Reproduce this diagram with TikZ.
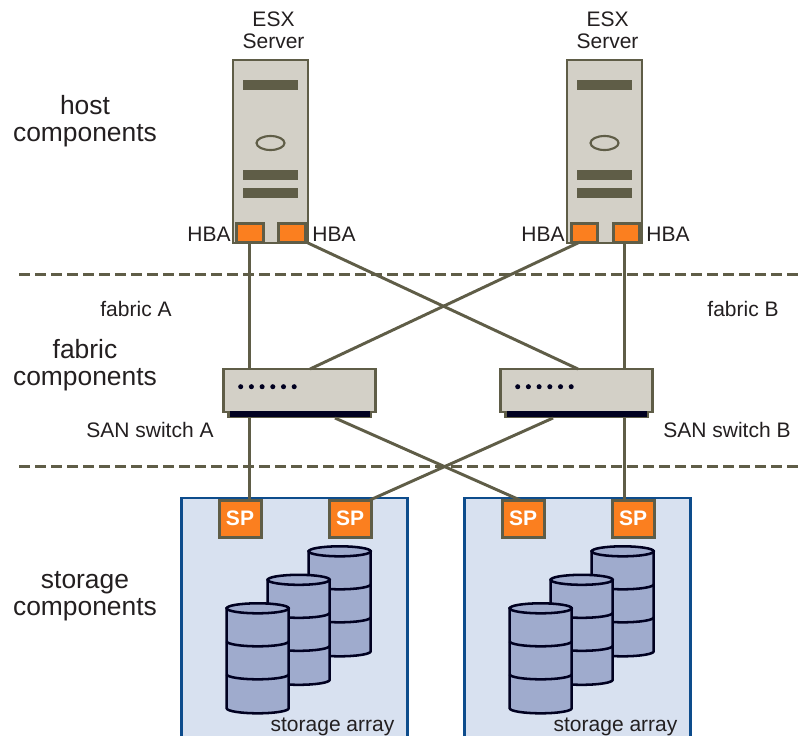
\documentclass[tikz,border=0pt]{standalone}
\usepackage{fontspec}
\usetikzlibrary{shapes.geometric}
\setmainfont{Liberation Sans}
\definecolor{olive}{HTML}{5F5D47}
\definecolor{putty}{HTML}{D3D0C7}
\definecolor{hbaorange}{HTML}{FB7F1F}
\definecolor{arrayfill}{HTML}{D8E1F0}
\definecolor{arrayline}{HTML}{0D4C8C}
\definecolor{drumfill}{HTML}{9FABCD}
\definecolor{inkdark}{HTML}{000020}
\definecolor{txt}{HTML}{231F20}
\tikzset{
  basebox/.style={rectangle,inner sep=0pt,outer sep=0pt},
  serverbox/.style={basebox,draw=olive,fill=putty,line width=2.1pt,minimum width=56.25pt,minimum height=137.25pt},
  hbabox/.style={basebox,draw=olive,fill=hbaorange,line width=2.25pt,minimum width=20pt,minimum height=14.25pt},
  spbox/.style={basebox,draw=olive,fill=hbaorange,line width=2.25pt,minimum width=31.5pt,minimum height=27.75pt,text=white,font=\fontsize{15.75}{16}\selectfont\bfseries},
  switchbox/.style={basebox,draw=olive,fill=putty,line width=2.1pt,minimum width=114pt,minimum height=32.25pt},
  switchfoot/.style={basebox,fill=olive,minimum width=108.3pt,minimum height=4.5pt},
  switchbar/.style={basebox,fill=inkdark,minimum width=105pt,minimum height=4.5pt},
  slot/.style={basebox,fill=olive,minimum width=41.25pt,minimum height=7.5pt},
  led/.style={ellipse,inner sep=0pt,outer sep=0pt,draw=olive,line width=1.6pt,minimum width=21pt,minimum height=10.5pt},
  wire/.style={draw=olive,line width=2.2pt},
  divider/.style={draw=olive,line width=2.25pt,dash pattern=on 8.25pt off 3.75pt},
  lab/.style={align=center,inner sep=0pt,text=txt,font=\fontsize{15.75}{16.5}\selectfont},
  biglab/.style={align=center,inner sep=0pt,text=txt,font=\fontsize{19.8}{20.25}\selectfont},
  drum/.style={draw=inkdark,fill=drumfill,line width=1.9pt},
}
\newcommand{\drumat}[2]{%
  \begin{scope}[shift={(#1,#2)}]
    \path[drum] (-31,0) -- (-31,100) arc[start angle=180,end angle=360,x radius=23.25pt,y radius=3.75pt] -- (31,0) -- cycle;
    \draw[drum] (0,0) ellipse [x radius=23.25pt,y radius=3.75pt];
    \draw[drum,fill=none] (-31,33) arc[start angle=180,end angle=360,x radius=23.25pt,y radius=3.75pt];
    \draw[drum,fill=none] (-31,66) arc[start angle=180,end angle=360,x radius=23.25pt,y radius=3.75pt];
  \end{scope}}
\begin{document}
\begin{tikzpicture}[x=0.75pt,y=-0.75pt]
\useasboundingbox (0,0) rectangle (798,736);
\fill[white] (0,0) rectangle (798,736);

% dividers
\coordinate (d1l) at (19,274); \coordinate (d1r) at (798,274);
\coordinate (d2l) at (19,466); \coordinate (d2r) at (798,466);

% storage arrays
\foreach \ox in {0,283}{
  \begin{scope}[shift={(\ox,0)}]
    \fill[arrayfill] (181.5,498) rectangle (407.5,736);
    \draw[arrayline,line width=1.9pt] (181.5,736) -- (181.5,498) -- (407.5,498) -- (407.5,736);
    \drumat{339.7}{551.3}
    \drumat{298.7}{579.8}
    \drumat{257.7}{608.3}
  \end{scope}
}

% servers
\node[serverbox] (srvA) at (270.5,151.5) {};
\node[serverbox] (srvB) at (604.5,151.5) {};
\foreach \s/\cx in {A/270.5,B/604.5}{
  \node[slot] (s1\s) at (\cx,85) {};
  \node[slot] (s2\s) at (\cx,175) {};
  \node[slot] (s3\s) at (\cx,193) {};
}
\node[led] (ledA) at (270.5,143) {};
\node[led] (ledB) at (604.5,143) {};
\node[hbabox] (hA1) at (250,232.5) {};
\node[hbabox] (hA2) at (292,232.5) {};
\node[hbabox] (hB1) at (584.5,232.5) {};
\node[hbabox] (hB2) at (626.5,232.5) {};

% switches
\node[switchbox] (swA) at (299.5,390.5) {};
\node[switchbox] (swB) at (576.5,390.5) {};
\node[switchfoot] (baseA) at (299.5,415) {};
\node[switchfoot] (baseB) at (576.5,415) {};
\node[switchbar] (barA) at (299.8,413.7) {};
\node[switchbar] (barB) at (576.8,413.7) {};
\foreach \cx in {299.5,576.5}{
  \foreach \i in {0,...,5}{
    \fill[inkdark] ({\cx-58.8+10.7*\i},386.7) circle (1.9pt);
  }
}

% storage processors
\node[spbox] (spA1) at (240,518.5) {SP};
\node[spbox] (spA2) at (350,518.5) {SP};
\node[spbox] (spB1) at (523,518.5) {SP};
\node[spbox] (spB2) at (633,518.5) {SP};

% wires, node to node
\draw[wire] ([xshift=-0.5pt]hA1.south) -- ([xshift=-37.625pt]swA.north);
\draw[wire] ([xshift=-1.5pt]hB2.south) -- ([xshift=36pt]swB.north);
\draw[wire] ([xshift=-3.4pt]hB1.south) -- ([xshift=7.9pt]swA.north);
\draw[wire] (srvA.south east) -- ([xshift=1.1pt]swB.north);
\draw[wire] ([xshift=-37.625pt]baseA.south) -- ([xshift=7pt]spA1.north);
\draw[wire] ([xshift=26.6pt]baseA.south) -- ([xshift=-2.3pt]spB1.north);
\draw[wire] ([xshift=-17.6pt]baseB.south) -- ([xshift=15pt]spA2.north);
\draw[wire] ([xshift=36pt]baseB.south) -- ([xshift=-6.375pt]spB2.north);

\draw[divider] (d1l) -- (d1r);
\draw[divider] (d2l) -- (d2r);

% labels
\node[lab] (t1) at (273.5,30) {ESX\\Server};
\node[lab] (t2) at (607.5,30) {ESX\\Server};
\node[lab] (t3) at (209,234) {HBA};
\node[lab] (t4) at (334,234) {HBA};
\node[lab] (t5) at (543,234) {HBA};
\node[lab] (t6) at (668,234) {HBA};
\node[lab] (t7) at (136,309) {fabric A};
\node[lab] (t8) at (743,309) {fabric B};
\node[lab] (t9) at (150,430) {SAN switch A};
\node[lab] (t10) at (727,430) {SAN switch B};
\node[lab] (t11) at (332.5,726.5) {storage array};
\node[lab] (t12) at (615.5,726.5) {storage array};
\node[biglab] (t13) at (85,121) {host\\components};
\node[biglab] (t14) at (85,365) {fabric\\components};
\node[biglab] (t15) at (85,596.5) {storage\\components};
\end{tikzpicture}
\end{document}
